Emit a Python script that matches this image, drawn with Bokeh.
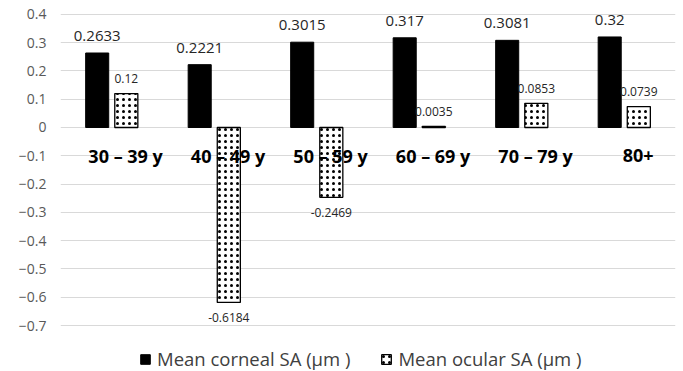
from bokeh.plotting import figure
from bokeh.models import ColumnDataSource, Range1d, FixedTicker, Legend, LegendItem
from bokeh.transform import dodge
from bokeh.core.properties import value
from bokeh.embed import file_html
from bokeh.resources import INLINE

categories = ["30 – 39 y", "40 – 49 y", "50 – 59 y", "60 – 69 y", "70 – 79 y", "80+"]
corneal = [0.2633, 0.2221, 0.3015, 0.317, 0.3081, 0.32]
ocular = [0.12, -0.6184, -0.2469, 0.0035, 0.0853, 0.0739]
corneal_labels = ["0.2633", "0.2221", "0.3015", "0.317", "0.3081", "0.32"]
ocular_labels = ["0.12", "-0.6184", "-0.2469", "0.0035", "0.0853", "0.0739"]
series_names = ["Mean corneal SA (μm )", "Mean ocular SA (μm )"]
y_ticks = [0.4, 0.3, 0.2, 0.1, 0, -0.1, -0.2, -0.3, -0.4, -0.5, -0.6, -0.7]
y_tick_labels = ["0.4", "0.3", "0.2", "0.1", "0", "\u22120.1", "\u22120.2", "\u22120.3",
                 "\u22120.4", "\u22120.5", "\u22120.6", "\u22120.7"]

FONT = "Open Sans"
OFF = 0.142
BW = 0.225

src = ColumnDataSource(dict(cat=categories, corneal=corneal, ocular=ocular,
                            clab=corneal_labels, olab=ocular_labels,
                            laby=[-0.1] * len(categories)))
pos_idx = [i for i, v in enumerate(ocular) if v >= 0]
neg_idx = [i for i, v in enumerate(ocular) if v < 0]
src_pos = ColumnDataSource(dict(cat=[categories[i] for i in pos_idx],
                                y=[ocular[i] for i in pos_idx],
                                t=[ocular_labels[i] for i in pos_idx]))
src_neg = ColumnDataSource(dict(cat=[categories[i] for i in neg_idx],
                                y=[ocular[i] for i in neg_idx],
                                t=[ocular_labels[i] for i in neg_idx]))

# frame extends to the bottom of the canvas so the legend can sit inside it
p = figure(x_range=categories, y_range=Range1d(-0.8625, 0.41), width=683, height=371,
           min_border_left=60, min_border_right=8, min_border_top=11, min_border_bottom=0,
           output_backend="svg", toolbar_location=None)
p.outline_line_color = None
p.xaxis.visible = False
p.xgrid.visible = False
p.ygrid.grid_line_color = "#d9d9d9"
p.ygrid.grid_line_width = 1
p.yaxis.ticker = FixedTicker(ticks=y_ticks)
p.yaxis.major_label_overrides = dict(zip(y_ticks, y_tick_labels))
p.yaxis.axis_line_color = None
p.yaxis.major_tick_line_color = None
p.yaxis.minor_tick_line_color = None
p.yaxis.major_tick_out = 0
p.yaxis.major_tick_in = 0
p.yaxis.minor_tick_out = 0
p.yaxis.major_label_text_font = FONT
p.yaxis.major_label_text_font_size = "14px"
p.yaxis.major_label_text_color = "#595959"
p.yaxis.major_label_standoff = 14

r1 = p.vbar(x=dodge("cat", -OFF, range=p.x_range), top="corneal", width=BW, source=src,
            fill_color="black", line_color="black")
r2 = p.vbar(x=dodge("cat", OFF, range=p.x_range), top="ocular", width=BW, source=src,
            fill_color="white", line_color="black", line_width=1.3,
            hatch_pattern="dot", hatch_color="black", hatch_scale=6, hatch_weight=0.8)

p.text(x=dodge("cat", -OFF, range=p.x_range), y="corneal", text="clab", source=src,
       text_align="center", text_baseline="alphabetic", y_offset=-17,
       text_font=value(FONT), text_font_size="15px", text_color="#262626")
p.text(x=dodge("cat", OFF, range=p.x_range), y="y", text="t", source=src_pos,
       text_align="center", text_baseline="alphabetic", y_offset=-15,
       text_font=value(FONT), text_font_size="12px", text_color="#262626")
p.text(x=dodge("cat", OFF, range=p.x_range), y="y", text="t", source=src_neg,
       text_align="center", text_baseline="top", y_offset=11,
       text_font=value(FONT), text_font_size="12px", text_color="#262626")
p.text(x=dodge("cat", 0.135, range=p.x_range), y="laby", text="cat", source=src,
       text_align="center", text_baseline="middle",
       text_font=value(FONT), text_font_size="18px", text_font_style="bold",
       text_color="black")

legend = Legend(items=[LegendItem(label=series_names[0], renderers=[r1]),
                       LegendItem(label=series_names[1], renderers=[r2])],
                orientation="horizontal", location=(79, 0),
                glyph_width=12, glyph_height=12, label_standoff=6, spacing=30,
                padding=0, margin=0, border_line_color=None, background_fill_alpha=0,
                label_text_font=FONT, label_text_font_size="18.5px",
                label_text_color="#404040")
p.add_layout(legend)

open("out.html", "w").write(file_html(p, INLINE))
